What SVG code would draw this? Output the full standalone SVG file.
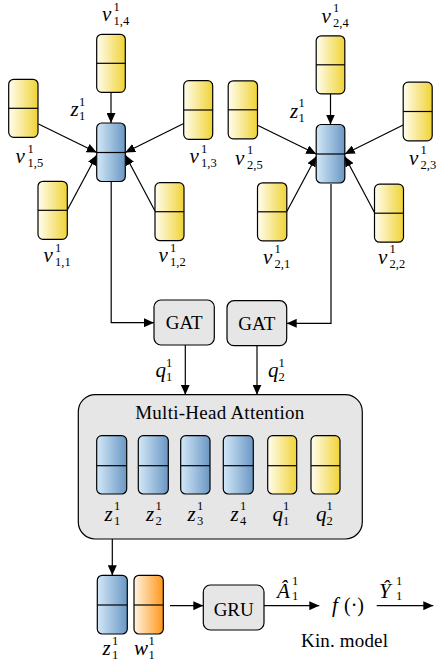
<svg xmlns="http://www.w3.org/2000/svg" width="436" height="669" viewBox="0 0 436 669">
<defs>
<linearGradient id="gy" x1="0" y1="0" x2="1" y2="0"><stop offset="0" stop-color="#fffdf0"/><stop offset="1" stop-color="#f0d335"/></linearGradient>
<linearGradient id="gb" x1="0" y1="0" x2="1" y2="0"><stop offset="0" stop-color="#d3e8f8"/><stop offset="1" stop-color="#6a97c4"/></linearGradient>
<linearGradient id="go" x1="0" y1="0" x2="1" y2="0"><stop offset="0" stop-color="#fff4e2"/><stop offset="1" stop-color="#ff961a"/></linearGradient>
<marker id="ah" markerWidth="10" markerHeight="9" refX="10" refY="4.5" orient="auto" markerUnits="userSpaceOnUse"><path d="M0,0 L10,4.5 L0,9 Z" fill="#000"/></marker>
</defs>
<style>
.n rect{stroke:#000;stroke-width:1.2}
.n line{stroke:#000;stroke-width:1.2}
.y rect{fill:url(#gy)}
.b rect{fill:url(#gb)}
.o rect{fill:url(#go)}
.box{fill:#e6e6e6;stroke:#000;stroke-width:1.2}
.c path{fill:none;stroke:#000;stroke-width:1.2;marker-end:url(#ah)}
.m{font-family:"Liberation Serif",serif;font-style:italic;font-size:21px;fill:#000}
.s{font-family:"Liberation Serif",serif;font-size:12.5px;fill:#000}
.t{font-family:"Liberation Serif",serif;font-size:19px;fill:#000}
.u{font-family:"Liberation Serif",serif;font-size:20px;fill:#000}
</style>

<!-- connectors -->
<g id="connectors" class="c">
<path d="M111,92.3 V123"/>
<path d="M38.5,124 L96.7,152.5"/>
<path d="M183.7,123.5 L125.3,152.5"/>
<path d="M67.3,210 L96.7,155"/>
<path d="M155,211 L125.3,155"/>
<g transform="translate(219.5,1.5)">
<path d="M111,92.3 V123"/>
<path d="M38.5,124 L96.7,152.5"/>
<path d="M183.7,123.5 L125.3,152.5"/>
<path d="M67.3,210 L96.7,155"/>
<path d="M155,211 L125.3,155"/>
</g>
<path d="M111.2,181.3 V322.7 H154"/>
<path d="M331,184 V323.3 H286.7"/>
<path d="M185.3,345 V394.7"/>
<path d="M257,345.7 V394.7"/>
<path d="M112.3,539 V575.3"/>
<path d="M170,605.7 H203.3"/>
<path d="M264,605.7 H319.3"/>
<path d="M376.7,605.7 H433.3"/>
</g>

<!-- cluster 1 -->
<g id="cluster1">
<g id="v14" class="n y" transform="translate(96.7,34.3)"><rect width="28.6" height="58" rx="5"/><line x1="0" y1="29" x2="28.6" y2="29"/></g>
<g id="v15" class="n y" transform="translate(8.7,79.3)"><rect width="29.3" height="58" rx="5"/><line x1="0" y1="29" x2="29.3" y2="29"/></g>
<g id="z1c" class="n b" transform="translate(96.7,123)"><rect width="28.6" height="58.5" rx="5"/><line x1="0" y1="29.5" x2="28.6" y2="29.5"/></g>
<g id="v13" class="n y" transform="translate(183.7,80.7)"><rect width="29" height="58.6" rx="5"/><line x1="0" y1="29.3" x2="29" y2="29.3"/></g>
<g id="v11" class="n y" transform="translate(38,181.3)"><rect width="29.3" height="58" rx="5"/><line x1="0" y1="29" x2="29.3" y2="29"/></g>
<g id="v12" class="n y" transform="translate(155,182.7)"><rect width="29" height="58" rx="5"/><line x1="0" y1="29" x2="29" y2="29"/></g>
<g id="labels1">
<text class="m" x="102" y="21">v</text><text class="s" x="113.5" y="10.5">1</text><text class="s" x="113.5" y="25">1,4</text>
<text class="m" x="70.5" y="116">z</text><text class="s" x="79" y="105.5">1</text><text class="s" x="79" y="120">1</text>
<text class="m" x="15.5" y="163">v</text><text class="s" x="27.5" y="152.5">1</text><text class="s" x="27.5" y="167">1,5</text>
<text class="m" x="189.5" y="163">v</text><text class="s" x="201" y="152.5">1</text><text class="s" x="201" y="167">1,3</text>
<text class="m" x="43.5" y="262">v</text><text class="s" x="55" y="251.5">1</text><text class="s" x="55" y="266">1,1</text>
<text class="m" x="158.5" y="262">v</text><text class="s" x="170" y="251.5">1</text><text class="s" x="170" y="266">1,2</text>
</g>
</g>

<!-- cluster 2 -->
<g id="cluster2" transform="translate(219.5,1.5)">
<g id="v24" class="n y" transform="translate(96.7,34.3)"><rect width="28.6" height="58" rx="5"/><line x1="0" y1="29" x2="28.6" y2="29"/></g>
<g id="v25" class="n y" transform="translate(8.7,79.3)"><rect width="29.3" height="58" rx="5"/><line x1="0" y1="29" x2="29.3" y2="29"/></g>
<g id="z2c" class="n b" transform="translate(96.7,123)"><rect width="28.6" height="58.5" rx="5"/><line x1="0" y1="29.5" x2="28.6" y2="29.5"/></g>
<g id="v23" class="n y" transform="translate(183.7,80.7)"><rect width="29" height="58.6" rx="5"/><line x1="0" y1="29.3" x2="29" y2="29.3"/></g>
<g id="v21" class="n y" transform="translate(38,181.3)"><rect width="29.3" height="58" rx="5"/><line x1="0" y1="29" x2="29.3" y2="29"/></g>
<g id="v22" class="n y" transform="translate(155,182.7)"><rect width="29" height="58" rx="5"/><line x1="0" y1="29" x2="29" y2="29"/></g>
<g id="labels2">
<text class="m" x="102" y="21">v</text><text class="s" x="113.5" y="10.5">1</text><text class="s" x="113.5" y="25">2,4</text>
<text class="m" x="70.5" y="116">z</text><text class="s" x="79" y="105.5">1</text><text class="s" x="79" y="120">1</text>
<text class="m" x="15.5" y="163">v</text><text class="s" x="27.5" y="152.5">1</text><text class="s" x="27.5" y="167">2,5</text>
<text class="m" x="189.5" y="163">v</text><text class="s" x="201" y="152.5">1</text><text class="s" x="201" y="167">2,3</text>
<text class="m" x="43.5" y="262">v</text><text class="s" x="55" y="251.5">1</text><text class="s" x="55" y="266">2,1</text>
<text class="m" x="158.5" y="262">v</text><text class="s" x="170" y="251.5">1</text><text class="s" x="170" y="266">2,2</text>
</g>
</g>

<!-- GAT -->
<g id="gat1"><rect class="box" x="154" y="300" width="60.3" height="45" rx="7"/><text class="t" x="184.2" y="329" text-anchor="middle">GAT</text></g>
<g id="gat2"><rect class="box" x="227" y="300.7" width="59.7" height="45" rx="7"/><text class="t" x="256.8" y="329.5" text-anchor="middle">GAT</text></g>
<g id="qlabels">
<text class="m" x="155.5" y="377">q</text><text class="s" x="166" y="366.5">1</text><text class="s" x="166" y="381">1</text>
<text class="m" x="268" y="377">q</text><text class="s" x="278.5" y="366.5">1</text><text class="s" x="278.5" y="381">2</text>
</g>

<!-- Multi-Head Attention -->
<g id="mha">
<rect class="box" x="78.3" y="394.7" width="284" height="144.3" rx="17"/>
<text class="t" x="219.7" y="418.5" text-anchor="middle" textLength="169">Multi-Head Attention</text>
<g id="mz1" class="n b" transform="translate(96.7,435.7)"><rect width="30" height="58.3" rx="5"/><line x1="0" y1="30" x2="30" y2="30"/></g>
<g id="mz2" class="n b" transform="translate(138.3,435.7)"><rect width="30" height="58.3" rx="5"/><line x1="0" y1="30" x2="30" y2="30"/></g>
<g id="mz3" class="n b" transform="translate(180.7,435.7)"><rect width="29.3" height="58.3" rx="5"/><line x1="0" y1="30" x2="29.3" y2="30"/></g>
<g id="mz4" class="n b" transform="translate(223.3,435.7)"><rect width="30" height="58.3" rx="5"/><line x1="0" y1="30" x2="30" y2="30"/></g>
<g id="mq1" class="n y" transform="translate(267.7,435.7)"><rect width="29" height="58.3" rx="5"/><line x1="0" y1="30" x2="29" y2="30"/></g>
<g id="mq2" class="n y" transform="translate(311,435.7)"><rect width="29" height="58.3" rx="5"/><line x1="0" y1="30" x2="29" y2="30"/></g>
<text class="m" x="104.5" y="520.5">z</text><text class="s" x="114" y="510">1</text><text class="s" x="114" y="524.5">1</text>
<text class="m" x="146" y="520.5">z</text><text class="s" x="155.5" y="510">1</text><text class="s" x="155.5" y="524.5">2</text>
<text class="m" x="187.5" y="520.5">z</text><text class="s" x="197" y="510">1</text><text class="s" x="197" y="524.5">3</text>
<text class="m" x="230.5" y="520.5">z</text><text class="s" x="240" y="510">1</text><text class="s" x="240" y="524.5">4</text>
<text class="m" x="272.5" y="520.5">q</text><text class="s" x="283" y="510">1</text><text class="s" x="283" y="524.5">1</text>
<text class="m" x="316" y="520.5">q</text><text class="s" x="326.5" y="510">1</text><text class="s" x="326.5" y="524.5">2</text>
</g>

<!-- bottom -->
<g id="bz1" class="n b" transform="translate(97.3,575.3)"><rect width="30" height="58.7" rx="5"/><line x1="0" y1="29.7" x2="30" y2="29.7"/></g>
<g id="bw1" class="n o" transform="translate(134,575.3)"><rect width="29.3" height="58.7" rx="5"/><line x1="0" y1="29.7" x2="29.3" y2="29.7"/></g>
<g id="blabels">
<text class="m" x="102.5" y="655">z</text><text class="s" x="112" y="644.5">1</text><text class="s" x="112" y="659">1</text>
<text class="m" x="134" y="655">w</text><text class="s" x="148.5" y="644.5">1</text><text class="s" x="148.5" y="659">1</text>
</g>
<g id="gru"><rect class="box" x="203.3" y="585" width="60.7" height="45" rx="7"/><text class="t" x="233.7" y="616" text-anchor="middle">GRU</text></g>
<g id="alabel"><text class="m" x="277" y="598">Â</text><text class="s" x="292" y="585">1</text><text class="s" x="292" y="600">1</text></g>
<g id="kin"><text class="m" x="332" y="612">f</text><text class="u" x="344" y="612">(·)</text><text class="t" x="301" y="647" textLength="87">Kin. model</text></g>
<g id="ylabel"><text class="m" x="379" y="598">Ŷ</text><text class="s" x="396" y="585">1</text><text class="s" x="396" y="600">1</text></g>
</svg>
